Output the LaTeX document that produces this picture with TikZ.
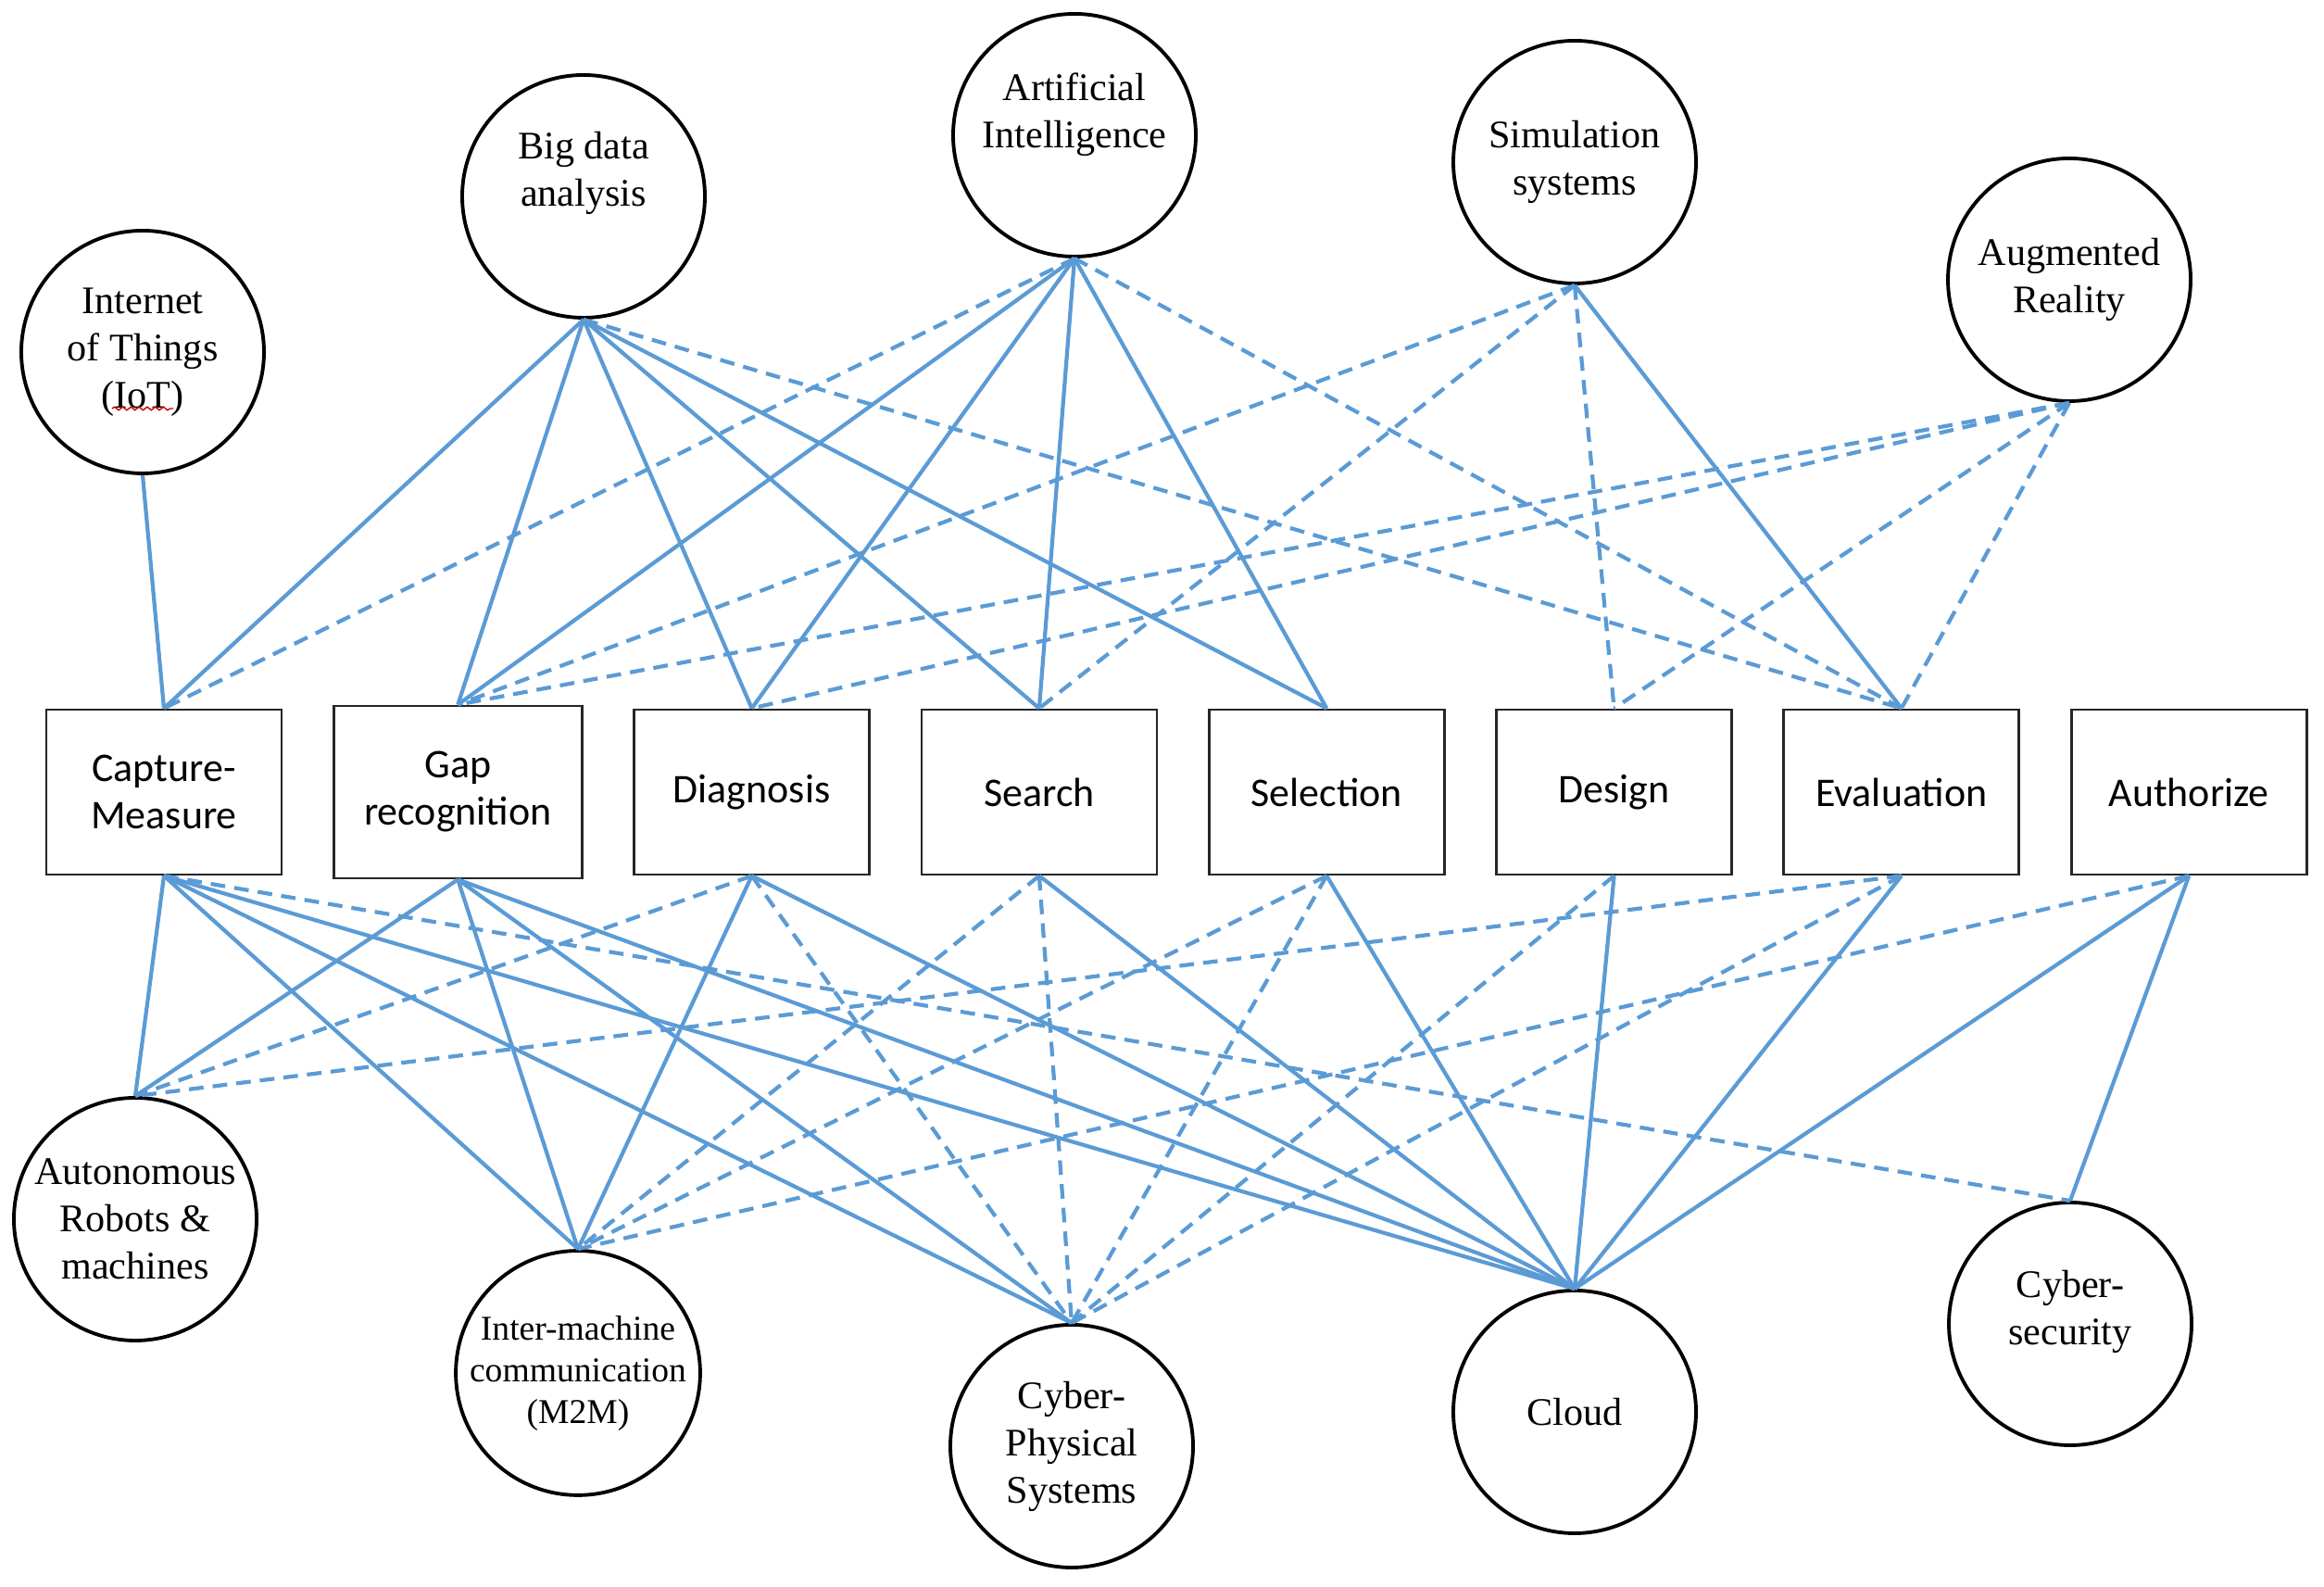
\documentclass[tikz,border=0pt]{standalone}
\usepackage{fontspec}
\setmainfont{Liberation Serif}
\newfontfamily\boxfont{Carlito}
\usepackage{xcolor}
\usetikzlibrary{positioning, calc, decorations.pathmorphing}
\definecolor{linkblue}{RGB}{91,155,213}

\begin{document}
\begin{tikzpicture}[
    node distance=0.535cm,
    % --- Styles ---
    tech circle/.style={draw, circle, line width=1.1pt, minimum size=2.62cm, inner sep=0pt, align=center, font=\fontsize{12}{14.5}\selectfont},
    tech text/.style={align=center, inner sep=0pt, font=\fontsize{12}{14.5}\selectfont},
    phase box/.style={draw=black!85, line width=0.8pt, minimum width=2.54cm, minimum height=1.78cm, align=center, font=\boxfont\fontsize{12.5}{14.5}\selectfont},
    strong link/.style={linkblue, line width=1.2pt},
    weak link/.style={linkblue, line width=1.2pt, dash pattern=on 4.5pt off 2.8pt}
]
    \useasboundingbox (0,0) rectangle (25.09,17.13);

    %% --- PHASES (middle row) ---
    \node[phase box] (capture) at (1.77,8.58) {Capture-\\Measure};
    \node[phase box, minimum width=2.68cm, minimum height=1.86cm, right=of capture] (gapRec) {Gap\\recognition};
    \node[phase box, right=of gapRec] (diagnosis) {Diagnosis};
    \node[phase box, right=of diagnosis] (search) {Search};
    \node[phase box, right=of search] (selection) {Selection};
    \node[phase box, right=of selection] (design) {Design};
    \node[phase box, right=of design] (evaluation) {Evaluation};
    \node[phase box, right=of evaluation] (authorize) {Authorize};

    %% --- TECHNOLOGIES (top row) ---
    \node[tech circle] (iot) at (1.54,13.33) {Internet\\of Things\\(IoT)};
    \node[tech circle] (bigData) at (6.30,15.01) {};
    \node[tech text] (bigDataText) at ($(bigData)+(0,0.25)$) {Big data\\analysis};
    \node[tech circle] (ai) at (11.60,15.67) {};
    \node[tech text] (aiText) at ($(ai)+(0,0.22)$) {Artificial\\Intelligence};
    \node[tech circle] (simSys) at (17.00,15.38) {Simulation\\systems};
    \node[tech circle] (augReal) at (22.34,14.11) {Augmented\\Reality};

    % spell-check squiggle under IoT
    \draw[red!80!black, line width=0.4pt, decorate, decoration={snake, amplitude=0.5pt, segment length=2.5pt}]
        ($(iot)+(-0.33,-0.61)$) -- ++(0.66,0);

    %% --- TECHNOLOGIES (bottom row) ---
    \node[tech circle] (autoRob) at (1.46,3.97) {Autonomous\\Robots \&\\machines};
    \node[tech circle, font=\fontsize{10.7}{12.8}\selectfont] (mtom) at (6.24,2.31) {Inter-machine\\communication\\(M2M)};
    \node[tech circle] (cps) at (11.57,1.52) {Cyber-\\Physical\\Systems};
    \node[tech circle] (cloud) at (17.00,1.89) {Cloud};
    \node[tech circle] (cyberSec) at (22.35,2.84) {};
    \node[tech text] (cyberSecText) at ($(cyberSec)+(0,0.13)$) {Cyber-\\security};

    %% --- Links to the top row ---
    \draw[strong link] (iot.south) -- (capture.north);
    \foreach \b in {capture, gapRec, diagnosis, search, selection}
        \draw[strong link] (bigData.south) -- (\b.north);
    \draw[weak link] (bigData.south) -- (evaluation.north);
    \foreach \b in {gapRec, diagnosis, search, selection}
        \draw[strong link] (ai.south) -- (\b.north);
    \foreach \b in {capture, evaluation}
        \draw[weak link] (ai.south) -- (\b.north);
    \foreach \b in {gapRec, search, design}
        \draw[weak link] (simSys.south) -- (\b.north);
    \draw[strong link] (simSys.south) -- (evaluation.north);
    \foreach \b in {gapRec, diagnosis, design, evaluation}
        \draw[weak link] (augReal.south) -- (\b.north);

    %% --- Links to the bottom row ---
    \foreach \c in {autoRob, mtom, cps, cloud} {
        \draw[strong link] (capture.south) -- (\c.north);
        \draw[strong link] (gapRec.south) -- (\c.north);
    }
    \draw[weak link] (capture.south) -- (cyberSec.north);

    \foreach \c in {autoRob, cps} \draw[weak link] (diagnosis.south) -- (\c.north);
    \foreach \c in {mtom, cloud} \draw[strong link] (diagnosis.south) -- (\c.north);

    \foreach \p in {search, selection} {
        \draw[weak link] (\p.south) -- (mtom.north);
        \draw[weak link] (\p.south) -- (cps.north);
        \draw[strong link] (\p.south) -- (cloud.north);
    }

    \draw[weak link] (design.south) -- (cps.north);
    \draw[strong link] (design.south) -- (cloud.north);

    \foreach \c in {autoRob, cps} \draw[weak link] (evaluation.south) -- (\c.north);
    \draw[strong link] (evaluation.south) -- (cloud.north);

    \draw[weak link] (authorize.south) -- (mtom.north);
    \foreach \c in {cloud, cyberSec} \draw[strong link] (authorize.south) -- (\c.north);
\end{tikzpicture}
\end{document}
